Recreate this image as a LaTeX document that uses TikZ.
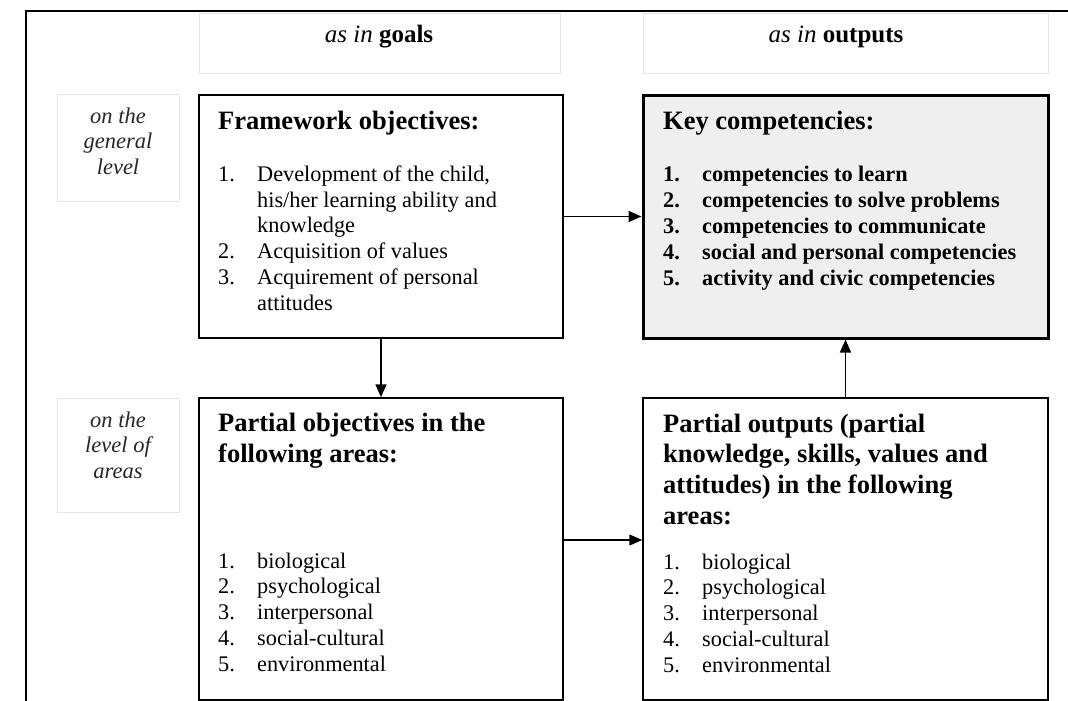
\documentclass[tikz,border=0pt]{standalone}
\usepackage{fontspec}
\setmainfont{Liberation Serif}
\usepackage{tikz}
\usetikzlibrary{arrows.meta}
\definecolor{keygray}{HTML}{EFEFEF}
\definecolor{faintgray}{HTML}{E4E4E4}
\tikzstyle{box} = [rectangle, draw, line width=1.5pt, inner sep=0pt]
\tikzstyle{keybox} = [rectangle, draw, line width=3pt, fill=keygray, inner sep=0pt]
\tikzstyle{faintbox} = [rectangle, draw=faintgray, line width=1pt, inner sep=0pt]
\tikzstyle{arrow} = [line width=1.5pt, -{Triangle[length=13pt,width=11pt]}]
\tikzstyle{head} = [anchor=base west, align=left, inner sep=0pt, font=\bfseries\fontsize{26.5}{30.6}\selectfont]
\tikzstyle{items} = [anchor=base west, align=left, inner sep=0pt, font=\fontsize{22.3}{25.7}\selectfont]
\tikzstyle{side} = [anchor=base, align=center, inner sep=0pt, text=black!85, font=\itshape\fontsize{22.5}{25.5}\selectfont]
\tikzstyle{colhead} = [anchor=base, inner sep=0pt, font=\fontsize{25}{28}\selectfont]
\newcommand{\objitem}[2]{\makebox[39pt][l]{#1}#2}
\newcommand{\objcont}[1]{\hspace*{39pt}#1}

\begin{document}
\begin{tikzpicture}[x=1pt, y=-1pt, node distance=332.5pt]
  \useasboundingbox (0,0) rectangle (1068,701);
  % frame of the page
  \draw[line width=2pt] (26,701) -- (26,11) -- (1068,11);

  % column and row captions
  \node (goalsbox) [faintbox, minimum width=361pt, minimum height=60pt] at (379.5,44) {};
  \node (outbox) [faintbox, minimum width=405pt, minimum height=60pt] at (845.5,44) {};
  \node (goalshead) [colhead] at (379,43) {\textit{as in} \textbf{goals}};
  \node (outhead) [colhead] at (836,43) {\textit{as in} \textbf{outputs}};
  \node (genlevel) [faintbox, minimum width=122pt, minimum height=107pt] at (118,147.5) {};
  \node (arealevel) [faintbox, minimum width=122pt, minimum height=114pt] at (118,455) {};
  \node (gentext) [side] at (118,174) {on the\\general\\level};
  \node (areatext) [side] at (118,478) {on the\\level of\\areas};

  % the four boxes
  \node (frame) [box, minimum width=364pt, minimum height=243pt] at (381,216.5) {};
  \node (key) [keybox, minimum width=405pt, minimum height=243pt, right of=frame, node distance=464.5pt] {};
  \node (partobj) [box, minimum width=364pt, minimum height=302pt, below of=frame] {};
  \node (partout) [box, minimum width=405pt, minimum height=302pt, below of=key] {};

  \node (framehead) [head] at (218,129) {Framework objectives:};
  \node (frameitems) [items] at (218,310) {\objitem{1.}{Development of the child,}\\
    \objcont{his/her learning ability and}\\
    \objcont{knowledge}\\
    \objitem{2.}{Acquisition of values}\\
    \objitem{3.}{Acquirement of personal}\\
    \objcont{attitudes}};

  \node (keyhead) [head] at (663,129) {Key competencies:};
  \node (keyitems) [items, font=\bfseries\fontsize{22.3}{25.8}\selectfont] at (663,285) {\objitem{1.}{competencies to learn}\\
    \objitem{2.}{competencies to solve problems}\\
    \objitem{3.}{competencies to communicate}\\
    \objitem{4.}{social and personal competencies}\\
    \objitem{5.}{activity and civic competencies}};

  \node (objhead) [head] at (218,462) {Partial objectives in the\\following areas:};
  \node (objitems) [items] at (218,671) {\objitem{1.}{biological}\\
    \objitem{2.}{psychological}\\
    \objitem{3.}{interpersonal}\\
    \objitem{4.}{social-cultural}\\
    \objitem{5.}{environmental}};

  \node (outhead2) [head] at (663,524) {Partial outputs (partial\\knowledge, skills, values and\\attitudes) in the following\\areas:};
  \node (outitems) [items] at (663,672) {\objitem{1.}{biological}\\
    \objitem{2.}{psychological}\\
    \objitem{3.}{interpersonal}\\
    \objitem{4.}{social-cultural}\\
    \objitem{5.}{environmental}};

  \draw[arrow] (frame) -- (key);
  \draw[arrow] (frame) -- (partobj);
  \draw[arrow] ([yshift=9pt]partobj.east) -- ([yshift=9pt]partout.west);
  \draw[arrow] (partout) -- (key);
\end{tikzpicture}
\end{document}
